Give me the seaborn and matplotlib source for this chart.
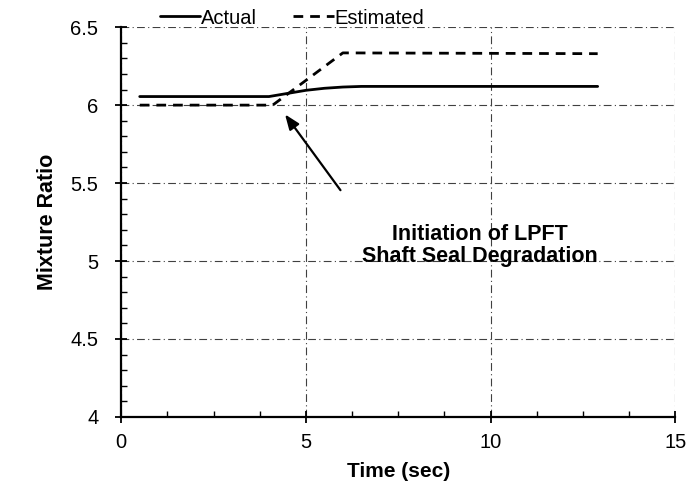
import numpy as np
import pandas as pd
import matplotlib
matplotlib.use("Agg")
import matplotlib.pyplot as plt
import seaborn as sns
from matplotlib.ticker import MultipleLocator

# 読み取った値
time_actual = [0.5, 4.0, 4.5, 5.0, 5.5, 6.0, 6.5, 12.9]
ratio_actual = [6.055, 6.055, 6.075, 6.095, 6.108, 6.116, 6.12, 6.12]
time_est = [0.5, 4.1, 6.0, 12.9]
ratio_est = [6.0, 6.0, 6.335, 6.33]

x_ticks = [0, 5, 10, 15]
y_ticks = [4, 4.5, 5, 5.5, 6, 6.5]
y_tick_labels = ["4", "4.5", "5", "5.5", "6", "6.5"]

sns.set_style("ticks")
plt.rcParams["font.family"] = ["Liberation Sans", "DejaVu Sans"]
plt.rcParams["text.color"] = "black"
plt.rcParams["axes.labelcolor"] = "black"
plt.rcParams["xtick.color"] = "black"
plt.rcParams["ytick.color"] = "black"

df_a = pd.DataFrame({"t": time_actual, "r": ratio_actual})
df_e = pd.DataFrame({"t": time_est, "r": ratio_est})

fig = plt.figure(figsize=(6.89, 4.94), dpi=100)
ax = fig.add_axes([0.176, 0.156, 0.804, 0.789])

sns.lineplot(data=df_a, x="t", y="r", ax=ax, color="black", lw=2, label="Actual")
sns.lineplot(data=df_e, x="t", y="r", ax=ax, color="black", lw=2,
             linestyle=(0, (3.5, 2.5)), label="Estimated")

ax.set_xlim(0, 15)
ax.set_ylim(4, 6.5)
ax.set_xticks(x_ticks)
ax.set_yticks(y_ticks)
ax.set_yticklabels(y_tick_labels)
ax.xaxis.set_minor_locator(MultipleLocator(1.25))
ax.yaxis.set_minor_locator(MultipleLocator(0.1))
ax.tick_params(which="major", direction="inout", length=9, width=1.3, labelsize=14.5)
ax.tick_params(axis="y", which="major", pad=12)
ax.tick_params(axis="x", which="major", pad=7)
ax.tick_params(which="minor", direction="in", length=4, width=1.0)

ax.grid(True, which="major", color="0.25", lw=0.8, linestyle=(0, (7, 3, 1, 3)))
for s in ["top", "right"]:
    ax.spines[s].set_visible(False)
for s in ["left", "bottom"]:
    ax.spines[s].set_linewidth(1.6)
    ax.spines[s].set_color("black")

ax.set_xlabel("Time (sec)", fontsize=15, fontweight="bold", labelpad=7)
ax.set_ylabel("Mixture Ratio", fontsize=15.5, fontweight="bold", labelpad=9)

ax.annotate("", xy=(4.39, 5.955), xytext=(5.98, 5.44),
            arrowprops=dict(arrowstyle="-|>,head_length=0.9,head_width=0.35",
                            color="black", lw=1.6))
ax.text(9.72, 5.10, "Initiation of LPFT\nShaft Seal Degradation", ha="center", va="center",
        fontsize=15.5, fontweight="bold", linespacing=1.05)

ax.legend_.remove()
handles, labels = ax.get_legend_handles_labels()
fig.legend(handles, labels, loc="center", bbox_to_anchor=(292 / 689, 1 - 18 / 494), ncol=2,
           frameon=False, fontsize=14.5, handlelength=2.0, handletextpad=0.05, columnspacing=1.8)

fig.savefig("out.png", dpi=100)
